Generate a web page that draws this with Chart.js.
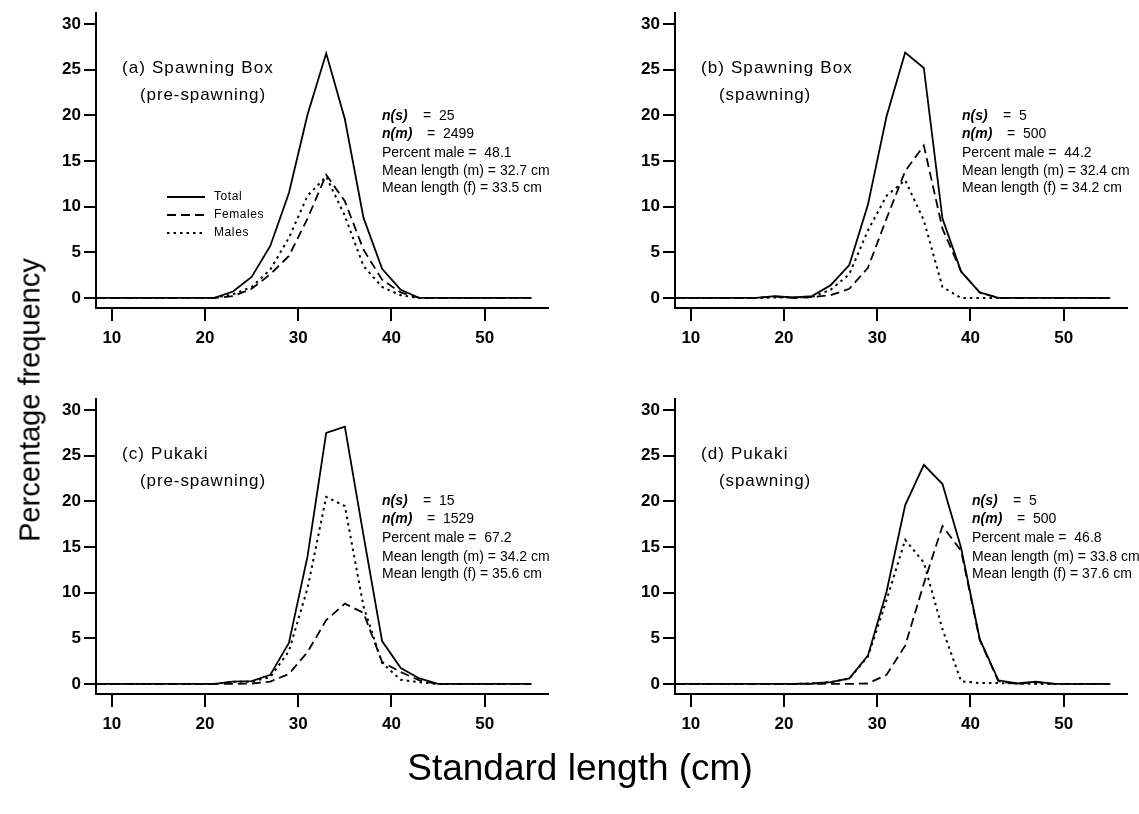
<!DOCTYPE html>
<html>
<head>
<meta charset="utf-8">
<script src="https://cdn.jsdelivr.net/npm/chart.js@4.4.0/dist/chart.umd.min.js"></script>
<style>
  body { margin: 0; background: #fff; }
  #wrap { position: relative; width: 1139px; height: 814px; overflow: hidden; font-family: 'Liberation Sans', Arial, sans-serif; color: #000; }
  .panel { position: absolute; height: 370px; }
  .ytitle { position: absolute; left: 30px; top: 400px; font-size: 29px; white-space: nowrap; transform: translate(-50%, -50%) rotate(-90deg); }
  .xtitle { position: absolute; left: 580px; top: 768px; font-size: 37px; white-space: nowrap; transform: translate(-50%, -50%); }
</style>
</head>
<body>
<div id="wrap">
  <div class="panel" style="left:0;top:0;width:569px"><canvas id="panelA"></canvas></div>
  <div class="panel" style="left:579px;top:0;width:560px"><canvas id="panelB"></canvas></div>
  <div class="panel" style="left:0;top:386px;width:569px"><canvas id="panelC"></canvas></div>
  <div class="panel" style="left:579px;top:386px;width:560px"><canvas id="panelD"></canvas></div>
  <div class="ytitle">Percentage frequency</div>
  <div class="xtitle">Standard length (cm)</div>
</div>
<script>
// standard length bins (cm), one value per odd centimetre
const lengths = [7, 9, 11, 13, 15, 17, 19, 21, 23, 25, 27, 29, 31, 33, 35, 37, 39, 41, 43, 45, 47, 49, 51, 53, 55];
const xTicks = [10, 20, 30, 40, 50];
const yTicks = [0, 5, 10, 15, 20, 25, 30];

// (a) Spawning Box, pre-spawning
const totalA   = [0, 0, 0, 0, 0, 0, 0, 0, 0.7, 2.3, 5.7, 11.5, 20.1, 26.8, 19.6, 8.8, 3.2, 0.9, 0, 0, 0, 0, 0, 0, 0];
const femalesA = [0, 0, 0, 0, 0, 0, 0, 0, 0.2, 1.0, 2.6, 4.6, 8.7, 13.5, 10.6, 5.3, 2.0, 0.6, 0, 0, 0, 0, 0, 0, 0];
const malesA   = [0, 0, 0, 0, 0, 0, 0, 0, 0.4, 1.2, 3.1, 6.6, 11.2, 13.3, 9.0, 3.5, 1.2, 0.3, 0, 0, 0, 0, 0, 0, 0];

// (b) Spawning Box, spawning
const totalB   = [0, 0, 0, 0, 0, 0, 0.2, 0.05, 0.2, 1.4, 3.6, 10.2, 19.9, 26.9, 25.2, 8.7, 2.9, 0.6, 0, 0, 0, 0, 0, 0, 0];
const femalesB = [0, 0, 0, 0, 0, 0, 0.15, 0, 0.1, 0.3, 1.0, 3.3, 8.7, 13.9, 16.7, 7.6, 2.9, 0.6, 0, 0, 0, 0, 0, 0, 0];
const malesB   = [0, 0, 0, 0, 0, 0, 0.05, 0.05, 0.1, 0.9, 2.6, 7.4, 11.2, 12.9, 8.5, 1.2, 0, 0, 0, 0, 0, 0, 0, 0, 0];

// (c) Pukaki, pre-spawning
const totalC   = [0, 0, 0, 0, 0, 0, 0, 0, 0.25, 0.3, 1.0, 4.5, 14.0, 27.5, 28.2, 16.3, 4.7, 1.75, 0.6, 0, 0, 0, 0, 0, 0];
const femalesC = [0, 0, 0, 0, 0, 0, 0, 0, 0, 0.05, 0.25, 1.1, 3.5, 7.0, 8.8, 7.8, 2.4, 1.3, 0.4, 0, 0, 0, 0, 0, 0];
const malesC   = [0, 0, 0, 0, 0, 0, 0, 0, 0.25, 0.25, 0.75, 3.6, 10.5, 20.5, 19.5, 8.5, 2.3, 0.45, 0.2, 0, 0, 0, 0, 0, 0];

// (d) Pukaki, spawning
const totalD   = [0, 0, 0, 0, 0, 0, 0, 0, 0.05, 0.2, 0.6, 3.1, 10.1, 19.6, 24.0, 21.9, 14.9, 4.9, 0.4, 0.05, 0.25, 0, 0, 0, 0];
const femalesD = [0, 0, 0, 0, 0, 0, 0, 0, 0, 0, 0, 0.05, 1.0, 4.2, 11.0, 17.3, 14.6, 4.8, 0.3, 0, 0.2, 0, 0, 0, 0];
const malesD   = [0, 0, 0, 0, 0, 0, 0, 0, 0.05, 0.2, 0.6, 3.0, 9.2, 15.8, 13.3, 6.0, 0.3, 0.1, 0.1, 0.05, 0, 0, 0, 0, 0];

const seriesNames = ['Total', 'Females', 'Males'];
const FONT = "'Liberation Sans', Arial, sans-serif";

const lineStyles = [
    { borderDash: [], width: 1.8 },
    { borderDash: [9, 5], width: 1.8 },
    { borderDash: [2.5, 4], width: 2 }
];

function pts(values) {
    return lengths.map((x, i) => ({ x: x, y: values[i] }));
}

// draws the panel captions, the stats block and (panel a only) the legend
const panelText = {
    id: 'panelText',
    afterDraw(chart, args, opts) {
        const ctx = chart.ctx;
        ctx.save();
        ctx.fillStyle = '#000';
        ctx.textBaseline = 'middle';
        ctx.textAlign = 'left';

        ctx.font = '17px ' + FONT;
        ctx.letterSpacing = '1.1px';
        ctx.fillText(opts.title[0], 122, 68);
        ctx.letterSpacing = '0.9px';
        ctx.fillText(opts.title[1], 140, 95);

        ctx.letterSpacing = '0px';
        const sx = opts.statsX;
        const rows = opts.rowsY;
        ctx.font = 'italic bold 14px ' + FONT;
        ctx.fillText('n(s)', sx, rows[0]);
        ctx.fillText('n(m)', sx, rows[1]);
        ctx.font = '14px ' + FONT;
        ctx.fillText('=  ' + opts.ns, sx + 41, rows[0]);
        ctx.fillText('=  ' + opts.nm, sx + 45, rows[1]);
        ctx.fillText('Percent male =  ' + opts.pm, sx, rows[2]);
        ctx.fillText('Mean length (m) = ' + opts.mm + ' cm', sx, rows[3]);
        ctx.fillText('Mean length (f) = ' + opts.mf + ' cm', sx, rows[4]);

        if (opts.legend) {
            ctx.font = '12px ' + FONT;
            ctx.letterSpacing = '0.6px';
            const ly = [197, 215, 233];
            seriesNames.forEach((name, i) => {
                ctx.beginPath();
                ctx.setLineDash(lineStyles[i].borderDash);
                ctx.lineWidth = lineStyles[i].width;
                ctx.strokeStyle = '#000';
                ctx.moveTo(167, ly[i]);
                ctx.lineTo(205, ly[i]);
                ctx.stroke();
                ctx.fillText(name, 214, ly[i]);
            });
        }
        ctx.restore();
    }
};

function makePanel(id, total, females, males, text, padRight) {
    const tickFont = { family: FONT, size: 17, weight: 'bold' };
    const axisGrid = { display: true, drawOnChartArea: false, drawTicks: true, color: '#000', lineWidth: 2 };
    return new Chart(document.getElementById(id), {
        type: 'line',
        data: {
            datasets: [total, females, males].map((vals, i) => ({
                label: seriesNames[i],
                data: pts(vals),
                borderColor: '#000',
                borderWidth: lineStyles[i].width,
                borderDash: lineStyles[i].borderDash,
                pointRadius: 0,
                fill: false,
                tension: 0,
                clip: 0
            }))
        },
        options: {
            responsive: true,
            maintainAspectRatio: false,
            animation: false,
            events: [],
            layout: { padding: { left: 0, right: padRight, top: 9, bottom: 0 } },
            scales: {
                x: {
                    type: 'linear',
                    min: 8.3,
                    max: 56.8,
                    afterBuildTicks: s => { s.ticks = xTicks.map(v => ({ value: v })); },
                    afterFit: s => { s.height = 62; },
                    grid: Object.assign({ tickLength: 13 }, axisGrid),
                    border: { display: true, color: '#000', width: 2 },
                    ticks: { color: '#000', font: tickFont, padding: 7, maxRotation: 0 }
                },
                y: {
                    min: -1.1,
                    max: 31.2,
                    afterBuildTicks: s => { s.ticks = yTicks.map(v => ({ value: v })); },
                    afterFit: s => { s.width = 96; },
                    grid: Object.assign({ tickLength: 12 }, axisGrid),
                    border: { display: true, color: '#000', width: 2 },
                    ticks: { color: '#000', font: tickFont, padding: 3 }
                }
            },
            plugins: {
                legend: { display: false },
                tooltip: { enabled: false },
                panelText: text
            }
        },
        plugins: [panelText]
    });
}

const topRows = [116, 134, 153, 171, 188];
const bottomRows = [115, 133, 152, 171, 188];

makePanel('panelA', totalA, femalesA, malesA, {
    title: ['(a) Spawning Box', '(pre-spawning)'],
    ns: '25', nm: '2499', pm: '48.1', mm: '32.7', mf: '33.5',
    statsX: 382, rowsY: topRows, legend: true
}, 21);

makePanel('panelB', totalB, femalesB, malesB, {
    title: ['(b) Spawning Box', '(spawning)'],
    ns: '5', nm: '500', pm: '44.2', mm: '32.4', mf: '34.2',
    statsX: 383, rowsY: topRows, legend: false
}, 12);

makePanel('panelC', totalC, femalesC, malesC, {
    title: ['(c) Pukaki', '(pre-spawning)'],
    ns: '15', nm: '1529', pm: '67.2', mm: '34.2', mf: '35.6',
    statsX: 382, rowsY: bottomRows, legend: false
}, 21);

makePanel('panelD', totalD, femalesD, malesD, {
    title: ['(d) Pukaki', '(spawning)'],
    ns: '5', nm: '500', pm: '46.8', mm: '33.8', mf: '37.6',
    statsX: 393, rowsY: bottomRows, legend: false
}, 12);
</script>
</body>
</html>
